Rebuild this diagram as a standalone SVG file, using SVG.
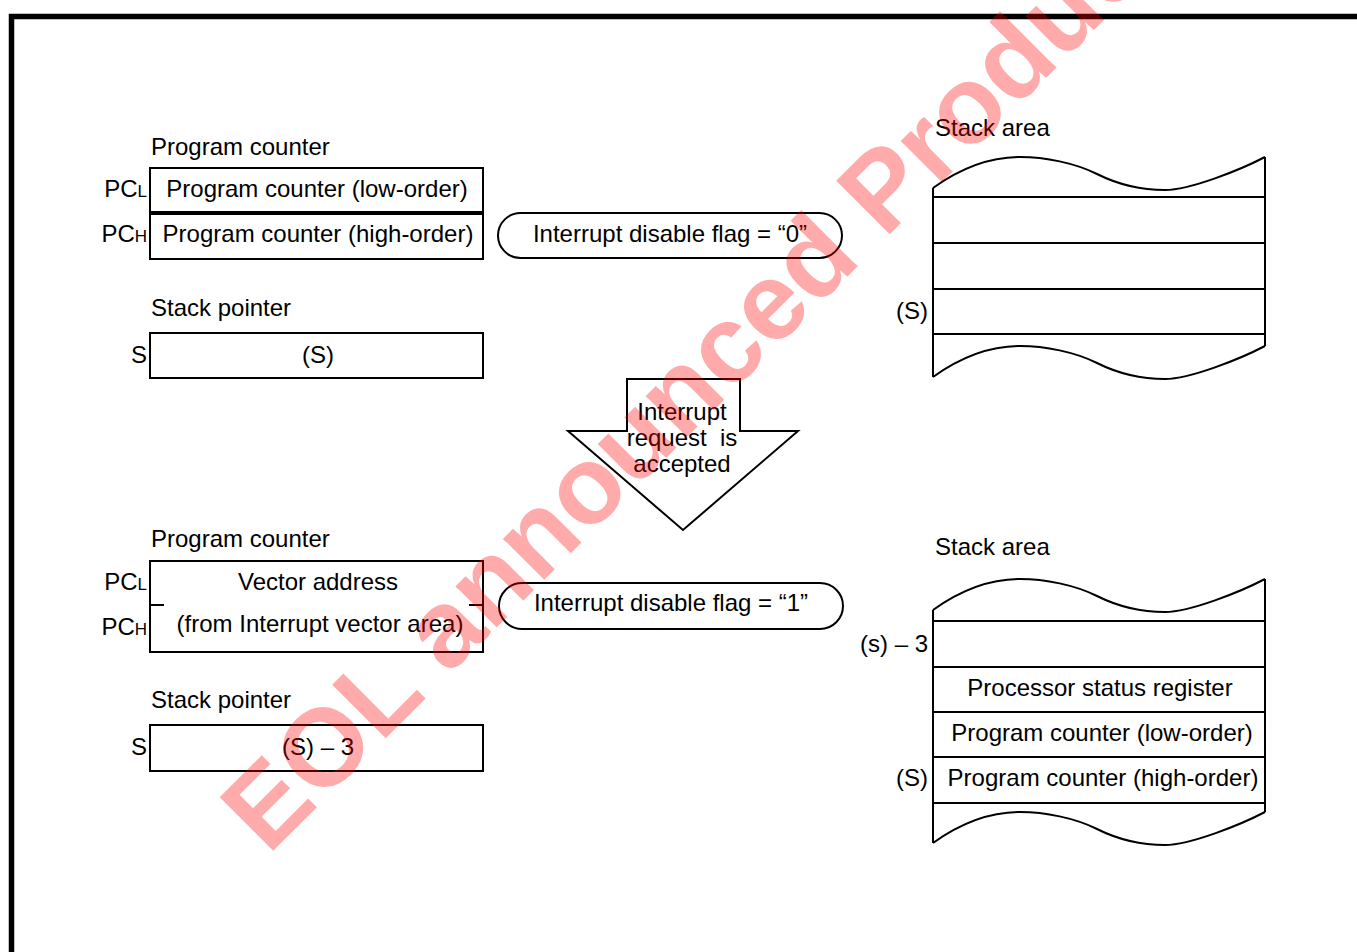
<svg xmlns="http://www.w3.org/2000/svg" xmlns:xlink="http://www.w3.org/1999/xlink" width="1357" height="952" viewBox="0 0 1357 952">
<style>
.t{font-family:"Liberation Sans",Arial,Helvetica,sans-serif;font-size:24px;fill:#000}
.m{text-anchor:middle}
.e{text-anchor:end}
.sub{font-size:17px}
.ln{fill:none;stroke:#000;stroke-width:2}
.bx{fill:#fff;stroke:#000;stroke-width:2}
.wm{font-family:"Liberation Sans",Arial,sans-serif;font-weight:bold;font-size:110px;fill:#f00;fill-opacity:0.33}
</style>
<defs>
<path id="wave" d="M933,188 C965,165 995,157 1020,157 S1075,163 1097,174 S1140,190 1165,190 S1240,170 1265,157"/>
</defs>
<rect width="1357" height="952" fill="#fff"/>
<g id="frame">
<path d="M11.5,952 V16.5 H1357" fill="none" stroke="#000" stroke-width="5.5"/>
</g>

<g id="pc-before">
<text class="t" x="151" y="155">Program counter</text>
<rect class="bx" x="150" y="168" width="333" height="44"/>
<rect class="bx" x="150" y="214" width="333" height="45"/>
<text class="t m" x="317" y="197">Program counter (low-order)</text>
<text class="t m" x="318" y="242">Program counter (high-order)</text>
<text class="t e" x="147" y="197">PC<tspan class="sub">L</tspan></text>
<text class="t e" x="147" y="242">PC<tspan class="sub">H</tspan></text>
</g>

<g id="sp-before">
<text class="t" x="151" y="316">Stack pointer</text>
<rect class="bx" x="150" y="333" width="333" height="45"/>
<text class="t m" x="318" y="363">(S)</text>
<text class="t e" x="147" y="363">S</text>
</g>

<g id="flag-0">
<rect class="bx" x="498" y="213" width="344" height="45" rx="22.5"/>
<text class="t m" x="670" y="242">Interrupt disable flag = “0”</text>
</g>

<g id="stack-before">
<text class="t" x="935" y="136">Stack area</text>
<use xlink:href="#wave" class="ln"/>
<use xlink:href="#wave" class="ln" transform="translate(0,189)"/>
<path class="ln" d="M933,188 V377 M1265,157 V346 M933,197 H1265 M933,243 H1265 M933,289 H1265 M933,334 H1265"/>
<text class="t e" x="928" y="319">(S)</text>
</g>

<g id="connectors">
<polygon class="bx" points="627,379 740,379 740,431 798,431 683,530 568,431 627,431"/>
<text class="t m" x="682" y="420">Interrupt</text>
<text class="t m" x="682" y="446" xml:space="preserve">request  is</text>
<text class="t m" x="682" y="472">accepted</text>
</g>

<g id="pc-after">
<text class="t" x="151" y="547">Program counter</text>
<rect class="bx" x="150" y="561" width="333" height="91"/>
<path class="ln" d="M150,605 H164 M469,605 H483"/>
<text class="t m" x="318" y="590">Vector address</text>
<text class="t m" x="320" y="632">(from Interrupt vector area)</text>
<text class="t e" x="147" y="590">PC<tspan class="sub">L</tspan></text>
<text class="t e" x="147" y="635">PC<tspan class="sub">H</tspan></text>
</g>

<g id="sp-after">
<text class="t" x="151" y="708">Stack pointer</text>
<rect class="bx" x="150" y="725" width="333" height="46"/>
<text class="t m" x="318" y="755">(S) – 3</text>
<text class="t e" x="147" y="755">S</text>
</g>

<g id="flag-1">
<rect class="bx" x="499" y="583" width="344" height="46" rx="23"/>
<text class="t m" x="671" y="611">Interrupt disable flag = “1”</text>
</g>

<g id="stack-after">
<text class="t" x="935" y="555">Stack area</text>
<use xlink:href="#wave" class="ln" transform="translate(0,422)"/>
<use xlink:href="#wave" class="ln" transform="translate(0,655)"/>
<path class="ln" d="M933,610 V843 M1265,579 V812 M933,621 H1265 M933,667 H1265 M933,712 H1265 M933,757 H1265 M933,803 H1265"/>
<text class="t e" x="928" y="652">(s) – 3</text>
<text class="t m" x="1100" y="696">Processor status register</text>
<text class="t m" x="1102" y="741">Program counter (low-order)</text>
<text class="t m" x="1103" y="786">Program counter (high-order)</text>
<text class="t e" x="928" y="786">(S)</text>
</g>

<g id="watermark">
<text class="wm" x="268" y="856" transform="rotate(-45 268 856)">EOL announced Product</text>
</g>
</svg>
